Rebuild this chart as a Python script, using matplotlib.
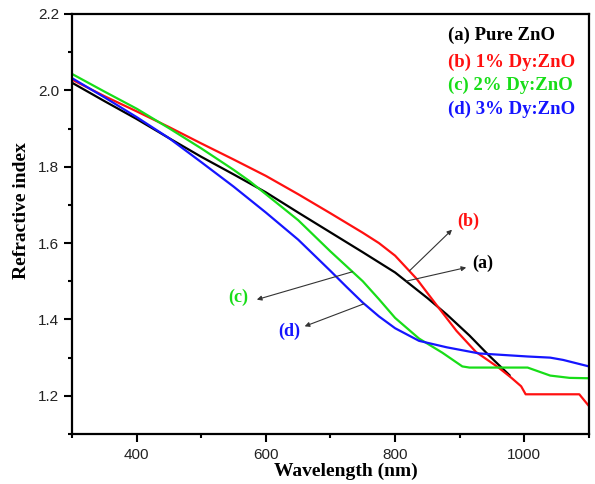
import matplotlib

matplotlib.use("Agg")

import matplotlib.pyplot as plt
import numpy as np

# refractive index vs wavelength (nm) for the four films
wl_pure = [300, 350, 400, 450, 500, 550, 600, 650, 700, 750, 800, 850, 880, 915,
           945, 977]
n_pure = [2.020, 1.972, 1.925, 1.875, 1.826, 1.780, 1.733, 1.680, 1.628, 1.576,
          1.523, 1.456, 1.413, 1.358, 1.306, 1.254]

wl_dy1 = [300, 350, 400, 450, 500, 550, 600, 650, 700, 750, 775, 800, 833, 864,
          895, 925, 960, 980, 995, 1002, 1085, 1100]
n_dy1 = [2.028, 1.985, 1.945, 1.904, 1.861, 1.819, 1.776, 1.728, 1.678, 1.627,
         1.600, 1.567, 1.507, 1.438, 1.370, 1.315, 1.274, 1.247, 1.225, 1.204,
         1.204, 1.173]

wl_dy2 = [300, 350, 400, 450, 500, 550, 575, 600, 650, 700, 750, 775, 800, 837,
          873, 904, 915, 1005, 1040, 1070, 1100]
n_dy2 = [2.043, 1.997, 1.952, 1.901, 1.848, 1.792, 1.762, 1.728, 1.660, 1.578,
         1.500, 1.453, 1.404, 1.350, 1.313, 1.277, 1.274, 1.274, 1.253, 1.247,
         1.246]

wl_dy3 = [300, 350, 400, 450, 500, 550, 575, 600, 650, 700, 725, 750, 775, 800,
          837, 880, 930, 1005, 1040, 1060, 1100]
n_dy3 = [2.032, 1.982, 1.930, 1.875, 1.812, 1.748, 1.714, 1.680, 1.609, 1.527,
         1.485, 1.444, 1.408, 1.377, 1.344, 1.327, 1.311, 1.303, 1.300, 1.294,
         1.277]

series = [
    ("(a) Pure ZnO", wl_pure, n_pure, "black"),
    ("(b) 1% Dy:ZnO", wl_dy1, n_dy1, "#ff1010"),
    ("(c) 2% Dy:ZnO", wl_dy2, n_dy2, "#18dd18"),
    ("(d) 3% Dy:ZnO", wl_dy3, n_dy3, "#1515ff"),
]

# (tag, x on curve where arrow starts, arrow head, label position)
callouts = [
    ("(a)", 817, (910, 1.536), (935, 1.546)),
    ("(b)", 822, (888, 1.635), (913, 1.656)),
    ("(c)", 734, (586, 1.452), (558, 1.458)),
    ("(d)", 752, (660, 1.382), (636, 1.369)),
]

serif_bold = dict(family="Liberation Serif", fontweight="bold")

fig = plt.figure(figsize=(5.95, 4.84), dpi=100)
ax = fig.add_axes([0.121, 0.1033, 0.8689, 0.8678])

for label, x, y, color in series:
    ax.plot(x, y, color=color, lw=1.6, solid_joinstyle="round")

for (tag, x_tail, head, pos), (_, x, y, color) in zip(callouts, series):
    tail = (x_tail, np.interp(x_tail, x, y))
    ax.annotate("", xy=head, xytext=tail,
                arrowprops=dict(arrowstyle="-|>", color="#333333", lw=0.8,
                                mutation_scale=7, shrinkA=0, shrinkB=0))
    ax.text(pos[0], pos[1], tag, color=color, fontsize=13, ha="center",
            va="center", **serif_bold)

legend_y = [0.950, 0.886, 0.829, 0.774]
for (label, _, _, color), ty in zip(series, legend_y):
    ax.text(0.727, ty, label, color=color, fontsize=13.5, ha="left", va="center",
            transform=ax.transAxes, **serif_bold)

ax.set_xlim(300, 1100)
ax.set_ylim(1.1, 2.2)
ax.set_xticks([400, 600, 800, 1000])
ax.set_xticks(np.arange(300, 1101, 100), minor=True)
ax.set_yticks([1.2, 1.4, 1.6, 1.8, 2.0, 2.2])
ax.set_yticks(np.arange(1.1, 2.21, 0.1), minor=True)
ax.yaxis.set_major_formatter(matplotlib.ticker.FormatStrFormatter("%.1f"))

for side in ax.spines.values():
    side.set_linewidth(1.6)
ax.tick_params(which="major", direction="out", length=6, width=1.5,
               labelsize=11, labelcolor="#222222")
ax.tick_params(which="minor", direction="out", length=3, width=1.5)
ax.tick_params(axis="x", which="major", pad=4)
ax.tick_params(axis="y", which="major", pad=3)
for lbl in ax.get_xticklabels() + ax.get_yticklabels():
    lbl.set_family("Liberation Sans")

ax.set_xlabel("Wavelength (nm)", fontsize=14, va="top", **serif_bold)
ax.xaxis.set_label_coords(0.529, -0.068)
ax.set_ylabel("Refractive index", fontsize=14, **serif_bold)
ax.yaxis.set_label_coords(-0.081, 0.533)

fig.savefig("out.png", dpi=100)
plt.close(fig)
